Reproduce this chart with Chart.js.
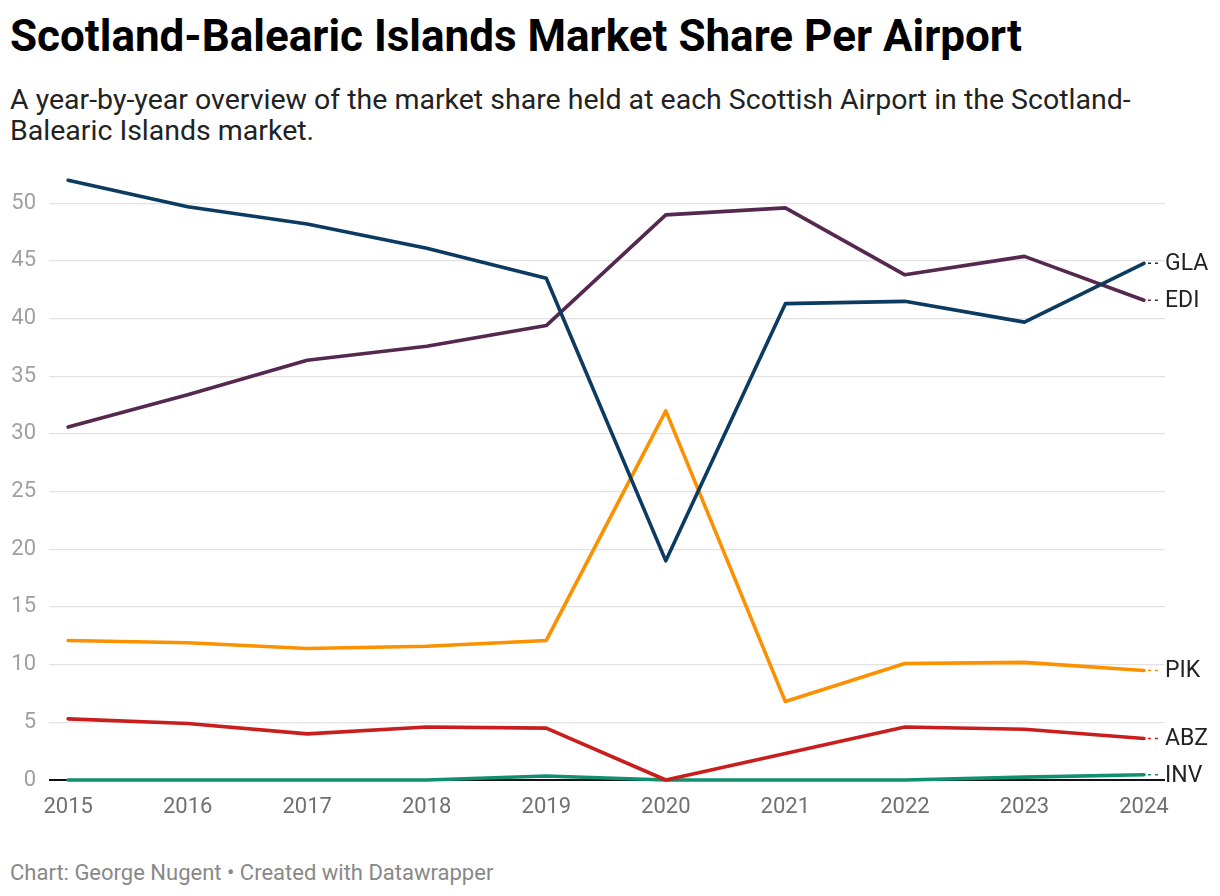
<!DOCTYPE html>
<html>
<head>
<meta charset="utf-8">
<script src="https://cdn.jsdelivr.net/npm/chart.js@4.4.1/dist/chart.umd.min.js"></script>
<style>
  html, body { margin: 0; padding: 0; background: #fff; }
  body { width: 1220px; height: 896px; position: relative; overflow: hidden; font-family: Roboto, "Noto Sans", sans-serif; }
  #title { position: absolute; left: 10px; top: 14px; font-size: 44px; line-height: 44px; font-weight: 700; color: #000; white-space: nowrap; }
  #subtitle { position: absolute; left: 10px; top: 84px; width: 1160px; font-size: 28.5px; line-height: 31px; color: #222; }
  #footer { position: absolute; left: 10px; top: 860px; font-size: 22px; line-height: 26px; color: #888; }
  #wrap { position: absolute; left: 0; top: 150px; width: 1220px; height: 700px; }
</style>
</head>
<body>
<div id="title">Scotland-Balearic Islands Market Share Per Airport</div>
<div id="subtitle">A year-by-year overview of the market share held at each Scottish Airport in the Scotland-Balearic Islands market.</div>
<div id="wrap"><canvas id="c"></canvas></div>
<div id="footer">Chart: George Nugent • Created with Datawrapper</div>
<script>
const years = [2015, 2016, 2017, 2018, 2019, 2020, 2021, 2022, 2023, 2024];
const yTicks = [0, 5, 10, 15, 20, 25, 30, 35, 40, 45, 50];
const seriesNames = ["GLA", "EDI", "PIK", "ABZ", "INV"];
const gla = [52.0, 49.7, 48.2, 46.1, 43.5, 19.0, 41.3, 41.5, 39.7, 44.8];
const edi = [30.6, 33.4, 36.4, 37.6, 39.4, 49.0, 49.6, 43.8, 45.4, 41.6];
const pik = [12.1, 11.9, 11.4, 11.6, 12.1, 32.0, 6.8, 10.1, 10.2, 9.5];
const abz = [5.3, 4.9, 4.0, 4.6, 4.5, 0.0, 2.3, 4.6, 4.4, 3.6];
const inv = [0.0, 0.0, 0.0, 0.0, 0.35, 0.0, 0.0, 0.0, 0.25, 0.45];
const colors = ["#0b3b60", "#55284f", "#fb9100", "#c81e1e", "#11906f"];

const seriesValues = [gla, edi, pik, abz, inv];
const datasets = seriesNames.map((name, i) => ({
  label: name,
  data: years.map((y, j) => ({ x: y, y: seriesValues[i][j] })),
  borderColor: colors[i],
  backgroundColor: colors[i],
  borderWidth: 3.6,
  pointRadius: 0,
  tension: 0,
  borderCapStyle: 'round',
  borderJoinStyle: 'round',
  fill: false,
  clip: false
}));

const endLabels = {
  id: 'endLabels',
  afterDatasetsDraw(chart) {
    const ctx = chart.ctx;
    ctx.save();
    chart.data.datasets.forEach((ds, i) => {
      const meta = chart.getDatasetMeta(i);
      const pt = meta.data[meta.data.length - 1];
      const x = pt.x, y = pt.y;
      ctx.strokeStyle = ds.borderColor;
      ctx.lineWidth = 1.5;
      ctx.setLineDash([3, 4]);
      ctx.beginPath();
      ctx.moveTo(x + 4, y);
      ctx.lineTo(chart.chartArea.right - 4, y);
      ctx.stroke();
      ctx.setLineDash([]);
      ctx.fillStyle = '#222';
      ctx.font = '23px Roboto';
      ctx.textBaseline = 'middle';
      ctx.textAlign = 'left';
      ctx.fillText(ds.label, chart.chartArea.right, y + 1);
    });
    ctx.restore();
  }
};

new Chart(document.getElementById('c'), {
  type: 'line',
  data: { datasets },
  options: {
    responsive: true,
    maintainAspectRatio: false,
    animation: false,
    layout: { padding: { left: 0, right: 55, top: 10, bottom: 30 } },
    plugins: { legend: { display: false }, tooltip: { enabled: false } },
    scales: {
      x: {
        type: 'linear',
        min: 2014.84,
        max: 2024.176,
        afterBuildTicks: s => { s.ticks = years.map(v => ({ value: v })); },
        afterFit: s => { s.height = 40; },
        grid: { display: false, drawTicks: false },
        border: { display: false },
        ticks: {
          callback: v => String(v),
          color: '#707070',
          font: { family: 'Roboto', size: 22 },
          padding: 14,
          maxRotation: 0,
          autoSkip: false
        }
      },
      y: {
        type: 'linear',
        min: 0,
        max: 52.35,
        afterBuildTicks: s => { s.ticks = yTicks.map(v => ({ value: v })); },
        afterFit: s => { s.width = 49; },
        grid: {
          drawTicks: false,
          color: c => (c.tick && c.tick.value === 0) ? '#111' : '#e2e2e2',
          lineWidth: c => (c.tick && c.tick.value === 0) ? 2 : 1.3
        },
        border: { display: false },
        ticks: {
          color: '#a0a0a0',
          font: { family: 'Roboto', size: 22 },
          padding: 13
        }
      }
    }
  },
  plugins: [endLabels]
});
</script>
</body>
</html>
